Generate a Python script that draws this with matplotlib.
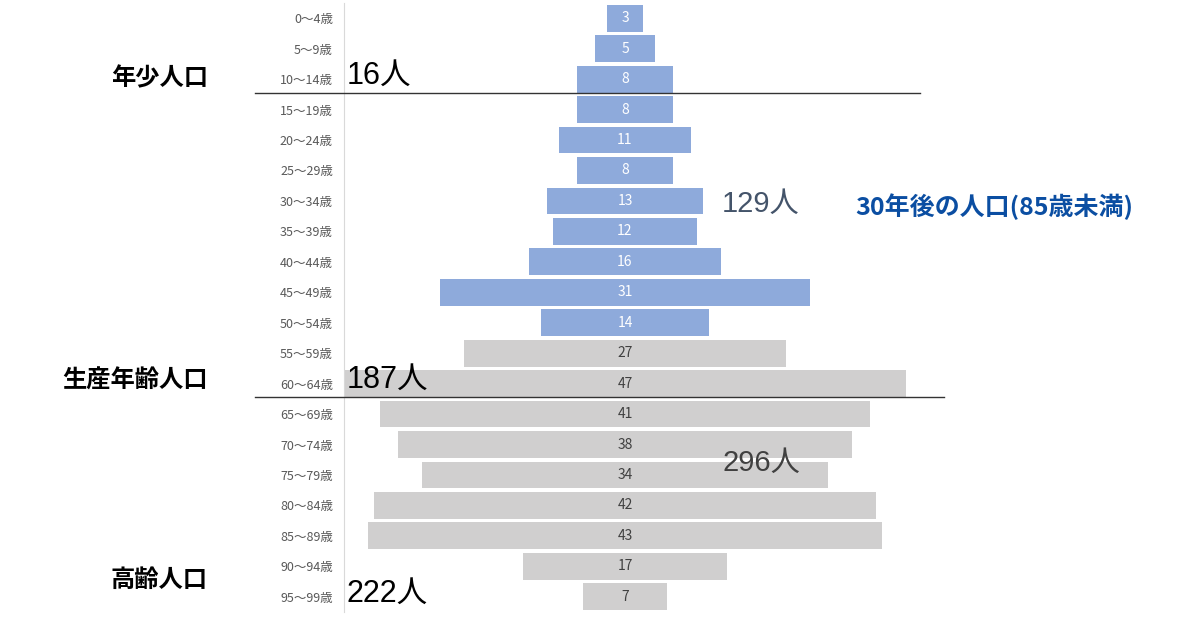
import matplotlib
matplotlib.use("Agg")
import matplotlib.pyplot as plt
from matplotlib.lines import Line2D

plt.rcParams['font.family'] = ['Noto Sans CJK JP', 'DejaVu Sans']
latin_first = ['Liberation Sans', 'Noto Sans CJK JP']

# data
age_groups = ['0～4歳', '5～9歳', '10～14歳', '15～19歳', '20～24歳', '25～29歳',
              '30～34歳', '35～39歳', '40～44歳', '45～49歳', '50～54歳', '55～59歳',
              '60～64歳', '65～69歳', '70～74歳', '75～79歳', '80～84歳', '85～89歳',
              '90～94歳', '95～99歳']
population = [3, 5, 8, 8, 11, 8, 13, 12, 16, 31, 14, 27, 47, 41, 38, 34, 42, 43, 17, 7]
n_blue = 11  # groups counted in the 30-year projection (under 85)

group_names = ['年少人口', '生産年齢人口', '高齢人口']
group_totals = ['16人', '187人', '222人']
projection_total = '129人'
rest_total = '296人'
title = '30年後の人口(85歳未満)'

W, H = 1200, 628
fig = plt.figure(figsize=(12, 6.28), dpi=100)
ax = fig.add_axes([344 / W, 1 - 612 / H, (906 - 344) / W, (612 - 3) / H])

blue = '#8eaadb'
grey = '#d0cfcf'
colors = [blue if i < n_blue else grey for i in range(len(population))]
ypos = list(range(len(population)))
lefts = [-v / 2 for v in population]
ax.barh(ypos, population, left=lefts, height=0.88, color=colors)

for i, v in enumerate(population):
    ax.text(0, i, str(v), ha='center', va='center', fontsize=10,
            color='white' if i < n_blue else '#404040')

ax.set_xlim(-23.5, 23.5)
ax.set_ylim(19.5, -0.5)
ax.set_yticks(ypos)
ax.set_yticklabels(age_groups, fontsize=9, color='#595959')
ax.tick_params(axis='y', length=0, pad=8)
ax.set_xticks([])
for s in ['top', 'right', 'bottom']:
    ax.spines[s].set_visible(False)
ax.spines['left'].set_color('#d9d9d9')


def fx(px):
    return px / W


def fy(py):
    return 1 - py / H


# separator lines
fig.add_artist(Line2D([fx(255), fx(920)], [fy(93), fy(93)], color='#333333', lw=1))
fig.add_artist(Line2D([fx(255), fx(944)], [fy(397), fy(397)], color='#333333', lw=1))

# group labels and totals
for name, y in zip(group_names, [78, 381, 580]):
    fig.text(fx(208), fy(y), name, ha='right', va='center', fontsize=17.5,
             fontweight='bold', color='black')
for tot, y in zip(group_totals, [76, 380, 594]):
    fig.text(fx(347), fy(y), tot, ha='left', va='center', fontsize=22,
             color='black', family=latin_first)

fig.text(fx(722), fy(204), projection_total, ha='left', va='center', fontsize=21,
         color='#44546a', family=latin_first)
fig.text(fx(722), fy(463), rest_total, ha='left', va='center', fontsize=21,
         color='#404040', family=latin_first)
fig.text(fx(855), fy(207), title, ha='left', va='center', fontsize=18,
         fontweight='bold', color='#0b4ea2')

fig.savefig('out.png', dpi=100)
